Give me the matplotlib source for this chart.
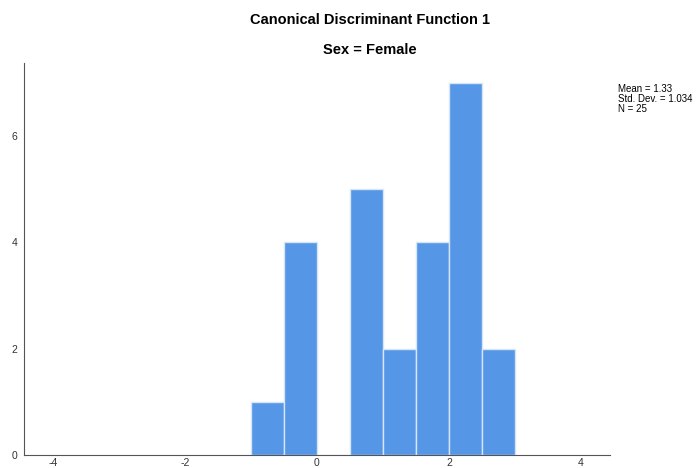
import numpy as np
import matplotlib.pyplot as plt

plt.rcParams['font.family'] = ['Liberation Sans', 'DejaVu Sans']
plt.rcParams['axes.unicode_minus'] = False

# histogram bins (width 0.5) and counts
bin_edges = [-1.0, -0.5, 0.0, 0.5, 1.0, 1.5, 2.0, 2.5, 3.0]
counts = [1, 4, 0, 5, 2, 4, 7, 2]
x_ticks = [-4, -2, 0, 2, 4]
y_ticks = [0, 2, 4, 6]
stats_text = "Mean = 1.33\nStd. Dev. = 1.034\nN = 25"

fig = plt.figure(figsize=(7, 4.68), dpi=100)
ax = fig.add_axes([24 / 700, 13 / 468, 586 / 700, 392 / 468])

lefts = np.array(bin_edges[:-1])
widths = np.diff(bin_edges)
ax.bar(lefts, counts, width=widths, align='edge', color='#5596e6',
       edgecolor='#d6e6fa', linewidth=1.0)

ax.set_xlim(-4.44, 4.44)
ax.set_ylim(0, 7.37)
ax.set_xticks(x_ticks)
ax.set_yticks(y_ticks)
ax.tick_params(length=0, labelsize=7.5, colors='#333333')
ax.tick_params(axis='x', pad=2)
ax.tick_params(axis='y', pad=5)
for s in ['top', 'right']:
    ax.spines[s].set_visible(False)
for s in ['left', 'bottom']:
    ax.spines[s].set_color('#555555')
    ax.spines[s].set_linewidth(0.8)

fig.text(370 / 700, 1 - 20 / 468, "Canonical Discriminant Function 1",
         ha='center', va='center', fontsize=10.5, fontweight='bold')
fig.text(370 / 700, 1 - 50 / 468, "Sex = Female",
         ha='center', va='center', fontsize=10.5, fontweight='bold')
fig.text(618 / 700, 1 - 84 / 468, stats_text, ha='left', va='top',
         fontsize=7, linespacing=1.0)

fig.savefig('out.png', dpi=100)
